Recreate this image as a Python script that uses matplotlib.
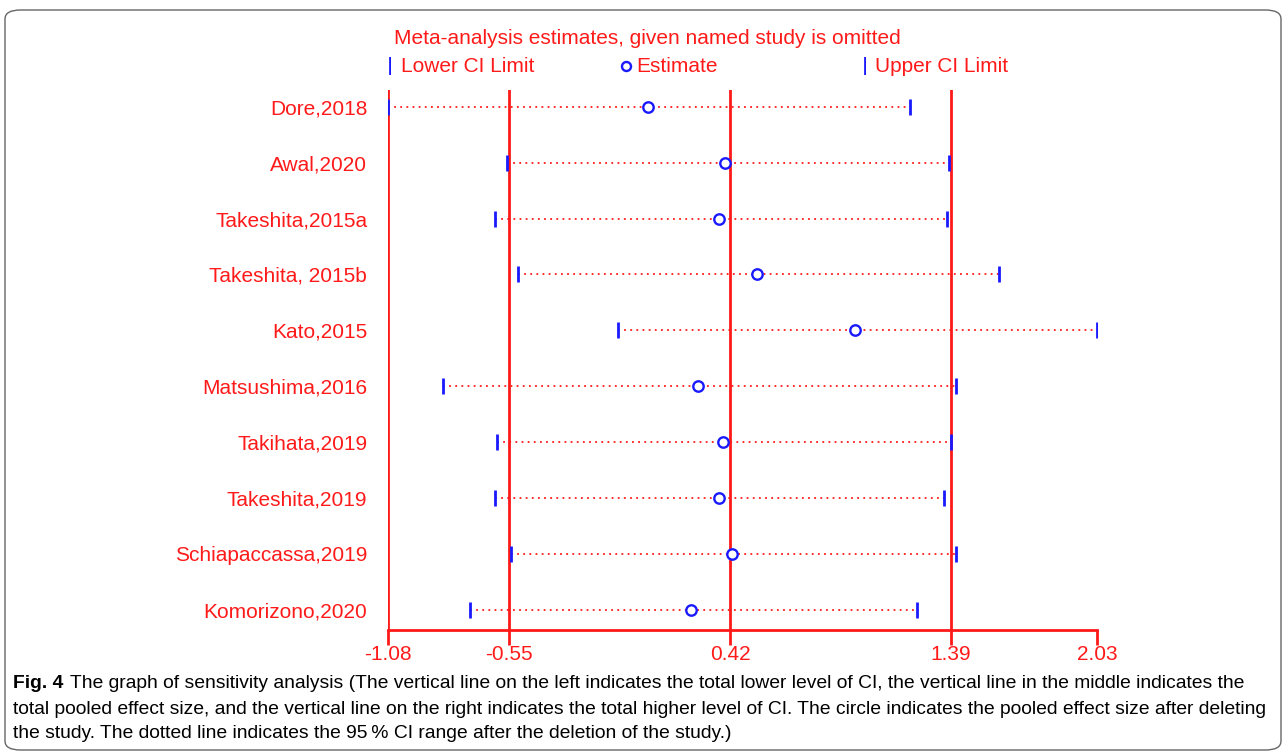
import matplotlib.pyplot as plt
from matplotlib.patches import FancyBboxPatch

# sensitivity analysis: estimates with one study left out
studies = ['Dore,2018', 'Awal,2020', 'Takeshita,2015a', 'Takeshita, 2015b', 'Kato,2015',
           'Matsushima,2016', 'Takihata,2019', 'Takeshita,2019', 'Schiapaccassa,2019',
           'Komorizono,2020']
lower = [-1.08, -0.56, -0.61, -0.51, -0.07, -0.84, -0.60, -0.61, -0.54, -0.72]
estimate = [0.06, 0.40, 0.37, 0.54, 0.97, 0.28, 0.39, 0.37, 0.43, 0.25]
upper = [1.21, 1.38, 1.37, 1.60, 2.03, 1.41, 1.39, 1.36, 1.41, 1.24]

# pooled values (lower CI, estimate, upper CI) and axis ends
pooled = [-0.55, 0.42, 1.39]
xticks = [-1.08, -0.55, 0.42, 1.39, 2.03]
xticklabels = ['-1.08', '-0.55', '0.42', '1.39', '2.03']

caption = [
    'The graph of sensitivity analysis (The vertical line on the left indicates the total lower level of CI, '
    'the vertical line in the middle indicates the',
    'total pooled effect size, and the vertical line on the right indicates the total higher level of CI. '
    'The circle indicates the pooled effect size after deleting',
    'the study. The dotted line indicates the 95\u2009% CI range after the deletion of the study.)',
]

red = '#ff1a1a'
blue = '#1a1aff'
W, H = 1287, 754
font = 'Liberation Sans'

fig = plt.figure(figsize=(W / 100, H / 100), dpi=100)
ax = fig.add_axes([388 / W, 1 - 630 / H, 709 / W, (630 - 90) / H])

ypos = list(range(len(studies)))
for i in ypos:
    ax.plot([lower[i], upper[i]], [i, i], color=red, lw=1.3, linestyle=(0, (1, 2.4)), zorder=2)
ax.plot(lower, ypos, linestyle='none', marker='|', color=blue, markersize=11, mew=2, zorder=3)
ax.plot(upper, ypos, linestyle='none', marker='|', color=blue, markersize=11, mew=2, zorder=3)
ax.plot(estimate, ypos, linestyle='none', marker='o', mfc='white', mec=blue,
        markersize=7.5, mew=1.7, zorder=4)

for v in [xticks[0]] + pooled:
    ax.axvline(v, color=red, lw=2, zorder=1)

ax.set_xlim(xticks[0], xticks[-1])
ax.set_ylim(9.36, -0.30)
for s in ['top', 'right', 'left']:
    ax.spines[s].set_visible(False)
ax.spines['bottom'].set_color(red)
ax.spines['bottom'].set_linewidth(2)
ax.set_xticks(xticks)
ax.set_xticklabels(xticklabels, fontsize=15, family=font, color=red)
ax.tick_params(axis='x', colors=red, length=11, width=2, pad=0)
ax.set_yticks(ypos)
ax.set_yticklabels(studies, fontsize=15, family=font, color=red)
ax.tick_params(axis='y', length=0, pad=15)

# title and legend at the top
fig.text(647 / W, 1 - 38 / H, 'Meta-analysis estimates, given named study is omitted',
         ha='center', va='center', fontsize=15, family=font, color=red)
leg_y = 1 - 66 / H
fig.text(390 / W, leg_y, '|', ha='center', va='center', fontsize=12, color=blue, weight='bold')
fig.text(401 / W, leg_y, 'Lower CI Limit', ha='left', va='center', fontsize=15, family=font, color=red)
fig.lines.append(plt.Line2D([626 / W], [leg_y], transform=fig.transFigure, marker='o',
                            mfc='white', mec=blue, markersize=6.5, mew=1.7))
fig.text(636 / W, leg_y, 'Estimate', ha='left', va='center', fontsize=15, family=font, color=red)
fig.text(865 / W, leg_y, '|', ha='center', va='center', fontsize=12, color=blue, weight='bold')
fig.text(875 / W, leg_y, 'Upper CI Limit', ha='left', va='center', fontsize=15, family=font, color=red)

# caption, font size chosen so the second line fills the width like in the paper
r = fig.canvas.get_renderer()
probe = fig.text(13 / W, 0.5, caption[1], fontsize=12, family=font)
cap_size = 12 * (1270 - 13) / probe.get_window_extent(renderer=r).width
probe.remove()

t = fig.text(13 / W, 1 - 683 / H, 'Fig. 4', ha='left', va='center', fontsize=cap_size,
             family=font, weight='bold')
bb = t.get_window_extent(renderer=r)
fig.text((bb.x1 + 7) / W, 1 - 683 / H, caption[0], ha='left', va='center', fontsize=cap_size, family=font)
fig.text(13 / W, 1 - 709 / H, caption[1], ha='left', va='center', fontsize=cap_size, family=font)
fig.text(13 / W, 1 - 734 / H, caption[2], ha='left', va='center', fontsize=cap_size, family=font)

box = FancyBboxPatch((5 / W, 4 / H), 1276 / W, 740 / H, boxstyle='round,pad=0,rounding_size=0.012',
                     transform=fig.transFigure, fill=False, edgecolor='#666666', lw=1)
fig.patches.append(box)

fig.savefig('out.png', dpi=100)
